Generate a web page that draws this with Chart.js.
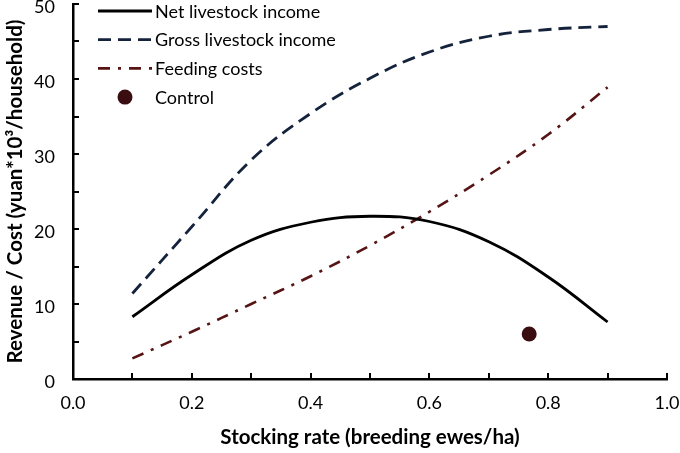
<!DOCTYPE html>
<html><head><meta charset="utf-8">
<script src="https://cdn.jsdelivr.net/npm/chart.js@4.4.1/dist/chart.umd.min.js"></script>
<style>html,body{margin:0;padding:0;background:#fff;}#wrap{width:680px;height:453px;}canvas{display:block;}</style>
</head><body>
<div id="wrap"><canvas id="c" width="680" height="453"></canvas></div>
<script>
// ---- data ----
const stockingRate  = [0.1, 0.2, 0.3, 0.4, 0.5, 0.6, 0.7, 0.8, 0.9];
const netIncome     = [8.3, 13.9, 18.5, 20.9, 21.7, 21.0, 18.3, 13.6, 7.6];
const grossIncome   = [11.4, 20.3, 29.2, 35.4, 40.1, 43.6, 45.7, 46.6, 47.0];
const feedingCosts  = [2.75, 6.3, 10.0, 13.7, 17.8, 22.3, 27.2, 32.6, 38.9];
const controlRate   = [0.768];
const controlIncome = [6.0];
const seriesLabels  = ['Net livestock income', 'Gross livestock income', 'Feeding costs', 'Control'];
const xTickLabels   = ['0.0', '0.2', '0.4', '0.6', '0.8', '1.0'];
const yTickLabels   = ['0', '10', '20', '30', '40', '50'];
const xTitle = 'Stocking rate (breeding ewes/ha)';
const yTitle = 'Revenue / Cost (yuan*10\u00B3/household)';

const pairs = (xs, ys) => xs.map((x, i) => ({x, y: ys[i]}));
const FONT = 'Lato, "Open Sans", sans-serif';

const innerTicks = {
  id: 'innerTicks',
  afterDraw(chart) {
    const {ctx, scales: {x, y}} = chart;
    ctx.save();
    ctx.strokeStyle = '#000';
    ctx.lineWidth = 2;
    for (let i = 1; i <= 10; i++) {
      const px = Math.round(x.getPixelForValue(i / 10));
      ctx.beginPath(); ctx.moveTo(px, y.bottom); ctx.lineTo(px, y.bottom - 6); ctx.stroke();
    }
    for (let i = 1; i <= 10; i++) {
      const py = Math.round(y.getPixelForValue(i * 5));
      ctx.beginPath(); ctx.moveTo(x.left, py); ctx.lineTo(x.left + 6, py); ctx.stroke();
    }
    ctx.restore();
  }
};

const insideLegend = {
  id: 'insideLegend',
  afterDraw(chart) {
    const {ctx, chartArea: a} = chart;
    const x0 = a.left + 25, lineW = 54, rowH = 28.7, y0 = a.top + 7;
    ctx.save();
    chart.data.datasets.forEach((ds, i) => {
      const cy = y0 + i * rowH;
      if (ds.showLine === false) {
        ctx.beginPath();
        ctx.fillStyle = ds.pointBackgroundColor;
        ctx.arc(x0 + lineW / 2, cy, ds.pointRadius, 0, Math.PI * 2);
        ctx.fill();
      } else {
        ctx.beginPath();
        ctx.strokeStyle = ds.borderColor;
        ctx.lineWidth = ds.borderWidth;
        ctx.setLineDash(ds.borderDash || []);
        ctx.moveTo(x0, cy); ctx.lineTo(x0 + lineW, cy);
        ctx.stroke();
        ctx.setLineDash([]);
      }
      ctx.fillStyle = '#000';
      ctx.font = '18px ' + FONT;
      ctx.textBaseline = 'alphabetic';
      ctx.textAlign = 'left';
      ctx.fillText(ds.label, x0 + lineW + 3, cy + 6.5);
    });
    ctx.restore();
  }
};

new Chart(document.getElementById('c'), {
  type: 'line',
  data: {
    datasets: [
      { label: seriesLabels[0], data: pairs(stockingRate, netIncome), borderColor: '#000000', borderWidth: 2.8,
        pointRadius: 0, tension: 0.4, fill: false },
      { label: seriesLabels[1], data: pairs(stockingRate, grossIncome), borderColor: '#14223c', borderWidth: 2.8,
        borderDash: [13, 7], pointRadius: 0, tension: 0.4, fill: false },
      { label: seriesLabels[2], data: pairs(stockingRate, feedingCosts), borderColor: '#561414', borderWidth: 2.6,
        borderDash: [12, 8, 3, 8], pointRadius: 0, tension: 0.4, fill: false },
      { label: seriesLabels[3], data: pairs(controlRate, controlIncome), showLine: false,
        pointRadius: 7.5, pointBackgroundColor: '#3a0e10', pointBorderWidth: 0, borderColor: '#3a0e10' }
    ]
  },
  options: {
    responsive: false,
    animation: false,
    events: [],
    layout: { autoPadding: false, padding: { top: 4, right: 13, left: 0, bottom: 0 } },
    plugins: { legend: { display: false }, tooltip: { enabled: false } },
    scales: {
      x: {
        type: 'linear', min: 0, max: 1,
        afterFit(s) { s.height = 74; s.paddingLeft = 0; s.paddingRight = 0; s.paddingTop = 0; s.paddingBottom = 0; },
        border: { display: true, color: '#000', width: 2.5 },
        grid: { display: false, drawTicks: false },
        ticks: { stepSize: 0.2, padding: 13, color: '#000', font: { family: FONT, size: 18 },
                 callback: (v, i) => xTickLabels[i], maxRotation: 0 },
        title: { display: true, text: xTitle, color: '#000', font: { family: FONT, size: 20.5, weight: 'bold' },
                 padding: { top: 0, bottom: 3 } }
      },
      y: {
        type: 'linear', min: 0, max: 50,
        afterFit(s) { s.width = 73; s.paddingTop = 0; s.paddingBottom = 0; s.paddingLeft = 0; s.paddingRight = 0; },
        border: { display: true, color: '#000', width: 2.5 },
        grid: { display: false, drawTicks: false },
        ticks: { stepSize: 10, padding: 18, labelOffset: 3, color: '#000', font: { family: FONT, size: 18 },
                 callback: (v, i) => yTickLabels[i] },
        title: { display: true, text: yTitle, color: '#000', font: { family: FONT, size: 20.5, weight: 'bold' },
                 padding: { top: 3, bottom: 0 } }
      }
    }
  },
  plugins: [innerTicks, insideLegend]
});
</script>
</body></html>
